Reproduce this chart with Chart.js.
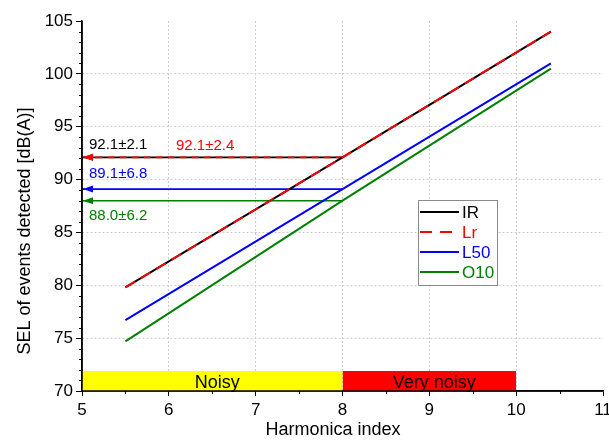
<!DOCTYPE html>
<html>
<head>
<meta charset="utf-8">
<script src="https://cdn.jsdelivr.net/npm/chart.js@4.4.1/dist/chart.umd.min.js"></script>
<style>
html, body { margin: 0; padding: 0; background: #fff; }
#chart { display: block; }
</style>
</head>
<body>
<canvas id="chart" width="609" height="443"></canvas>
<script>
// harmonica index where each fitted line is evaluated
var harmonicaIndex = [5.5, 8, 10.4];

var seriesNames  = ['IR', 'Lr', 'L50', 'O10'];
var seriesColors = ['#000000', '#ff0000', '#0000ff', '#008000'];
var selIR  = [79.8, 92.1, 104.0];
var selLr  = [79.8, 92.1, 104.0];
var selL50 = [76.7, 89.1, 101.0];
var selO10 = [74.7, 88.0, 100.5];

// mean +- sd at harmonica index 8, one per series
var meanAt8 = [92.1, 92.1, 89.1, 88.0];
var sdAt8   = [2.1, 2.4, 6.8, 6.2];

// noise classes along the bottom
var bandNames  = ['Noisy', 'Very noisy'];
var bandFrom   = [5, 8];
var bandTo     = [8, 10];
var bandColors = ['#ffff00', '#ff0000'];
var bandTop    = 71.9;

var FONT = "'Liberation Sans', Arial, Helvetica, sans-serif";

function toPoints(ys) {
        return ys.map(function(y, i) { return { x: harmonicaIndex[i], y: y }; });
}

var seriesData = [selIR, selLr, selL50, selO10];
var datasets = [];

//fitted lines (dashed Lr sits on top of IR)
seriesData.forEach(function(ys, i) {
        datasets.push({
                label: seriesNames[i],
                data: toPoints(ys),
                borderColor: seriesColors[i],
                borderWidth: 2,
                borderDash: i === 1 ? [11, 7] : [],
                pointRadius: 0,
                fill: false,
                order: i === 1 ? 0 : 1
        });
});

//arrows back to the axis at index 8
meanAt8.forEach(function(m, i) {
        datasets.push({
                label: seriesNames[i] + ' arrow',
                data: [{ x: 8, y: m }, { x: 5, y: m }],
                borderColor: seriesColors[i],
                borderWidth: 1.6,
                borderDash: i === 1 ? [7, 5] : [],
                pointRadius: 0,
                fill: false,
                order: i === 1 ? 2 : 3
        });
});

//noise class bands
bandNames.forEach(function(name, i) {
        datasets.push({
                label: name,
                data: [{ x: bandFrom[i], y: bandTop }, { x: bandTo[i], y: bandTop }],
                borderWidth: 0,
                borderColor: 'rgba(0,0,0,0)',
                backgroundColor: bandColors[i],
                pointRadius: 0,
                fill: { value: 70 },
                order: 10
        });
});

function gridColor(edgeA, edgeB) {
        return function(ctx) {
                var v = ctx.tick ? ctx.tick.value : null;
                return (v === edgeA || v === edgeB) ? 'rgba(0,0,0,0)' : '#cccccc';
        };
}

var extras = {
        id: 'extras',
        afterDraw: function(chart) {
                var ctx = chart.ctx;
                var xs = chart.scales.x, ys = chart.scales.y;
                var area = chart.chartArea;
                var v, px, py;

                ctx.save();

                //minor ticks
                ctx.strokeStyle = '#000';
                ctx.lineWidth = 1;
                ctx.beginPath();
                for (v = 71; v < 105; v++) {
                        if (v % 5 === 0) continue;
                        py = Math.round(ys.getPixelForValue(v)) + 0.5;
                        ctx.moveTo(area.left - 3, py);
                        ctx.lineTo(area.left, py);
                }
                for (v = 5.5; v < 11; v += 1) {
                        px = Math.round(xs.getPixelForValue(v)) + 0.5;
                        ctx.moveTo(px, area.bottom);
                        ctx.lineTo(px, area.bottom + 3);
                }
                ctx.stroke();

                //band names
                ctx.fillStyle = '#000';
                ctx.font = '18px ' + FONT;
                ctx.textAlign = 'center';
                ctx.textBaseline = 'alphabetic';
                bandNames.forEach(function(name, i) {
                        var cx = xs.getPixelForValue((bandFrom[i] + bandTo[i]) / 2) + 5;
                        ctx.fillText(name, cx, area.bottom - 3);
                });

                //arrow heads
                meanAt8.forEach(function(m, i) {
                        var tip = xs.getPixelForValue(5) + 1;
                        var y = ys.getPixelForValue(m);
                        ctx.fillStyle = seriesColors[i];
                        ctx.beginPath();
                        ctx.moveTo(tip, y);
                        ctx.lineTo(tip + 10, y - 3.5);
                        ctx.lineTo(tip + 10, y + 3.5);
                        ctx.closePath();
                        ctx.fill();
                });

                //mean +- sd labels
                var dx = [7, 94, 7, 7];
                var dy = [-13, -12, -15, 15];
                ctx.font = '15px ' + FONT;
                ctx.textAlign = 'left';
                ctx.textBaseline = 'middle';
                meanAt8.forEach(function(m, i) {
                        ctx.fillStyle = seriesColors[i];
                        ctx.fillText(m.toFixed(1) + '\u00b1' + sdAt8[i].toFixed(1),
                                xs.getPixelForValue(5) + dx[i], ys.getPixelForValue(m) + dy[i]);
                });

                //legend box
                var lx = 418, ly = 200, lw = 79, lh = 85;
                ctx.fillStyle = '#fff';
                ctx.fillRect(lx, ly, lw, lh);
                ctx.strokeStyle = '#8a8a8a';
                ctx.lineWidth = 1;
                ctx.strokeRect(lx + 0.5, ly + 0.5, lw, lh);
                ctx.font = '17px ' + FONT;
                ctx.textBaseline = 'middle';
                seriesNames.forEach(function(name, i) {
                        var ry = ly + 12 + i * 20;
                        ctx.strokeStyle = seriesColors[i];
                        ctx.lineWidth = 2;
                        ctx.setLineDash(i === 1 ? [12, 8] : []);
                        ctx.beginPath();
                        ctx.moveTo(lx + 2, ry);
                        ctx.lineTo(lx + 41, ry);
                        ctx.stroke();
                        ctx.setLineDash([]);
                        ctx.fillStyle = seriesColors[i];
                        ctx.fillText(name, lx + 44, ry + 1);
                });

                //axis lines on top of the bands
                ctx.strokeStyle = '#000';
                ctx.lineWidth = 1.5;
                ctx.beginPath();
                ctx.moveTo(area.left, area.top);
                ctx.lineTo(area.left, area.bottom);
                ctx.lineTo(area.right, area.bottom);
                ctx.stroke();

                //axis titles
                ctx.fillStyle = '#000';
                ctx.font = '18px ' + FONT;
                ctx.textAlign = 'center';
                ctx.textBaseline = 'middle';
                ctx.fillText('Harmonica index', 333, 430);
                ctx.translate(25, 231);
                ctx.rotate(-Math.PI / 2);
                ctx.fillText('SEL of events detected [dB(A)]', 0, 0);

                ctx.restore();
        }
};

var chartLine = new Chart(document.getElementById('chart'), {
        type: 'line',
        data: { datasets: datasets },
        plugins: [extras],
        options: {
                responsive: false,
                animation: false,
                layout: { padding: { top: 21, right: 6, left: 0, bottom: 0 } },
                plugins: {
                        legend: { display: false },
                        tooltip: { enabled: false }
                },
                scales: {
                        x: {
                                type: 'linear',
                                min: 5,
                                max: 11,
                                afterFit: function(s) { s.height = 52; s.paddingRight = 0; s.paddingLeft = 0; },
                                ticks: { stepSize: 1, color: '#000', padding: 4, maxRotation: 0,
                                        font: { size: 17, family: FONT } },
                                grid: { color: gridColor(5, 11), tickColor: '#000', tickLength: 5, lineWidth: 1 },
                                border: { display: true, color: '#000', width: 1.5, dash: [2, 2] }
                        },
                        y: {
                                type: 'linear',
                                min: 70,
                                max: 105,
                                afterFit: function(s) { s.width = 82; },
                                ticks: { stepSize: 5, color: '#000', padding: 3,
                                        font: { size: 17, family: FONT } },
                                grid: { color: gridColor(70, 105), tickColor: '#000', tickLength: 6, lineWidth: 1 },
                                border: { display: true, color: '#000', width: 1.5, dash: [2, 2] }
                        }
                }
        }
});
</script>
</body>
</html>
